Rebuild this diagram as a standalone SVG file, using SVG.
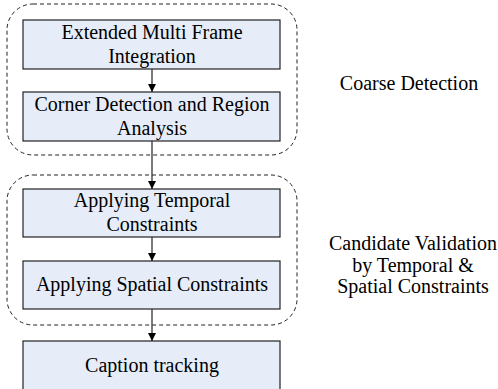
<svg xmlns="http://www.w3.org/2000/svg" width="498" height="389" viewBox="0 0 498 389">
<style>
.box{fill:#e6edf8;stroke:#222;stroke-width:1.2}
.grp{fill:none;stroke:#222;stroke-width:1;stroke-dasharray:4 3}
text{font-family:"Liberation Serif","Times New Roman",serif;font-size:20px;fill:#000;text-anchor:middle}
.conn line{stroke:#333;stroke-width:1.3}
</style>
<defs>
<marker id="ah" markerWidth="8" markerHeight="8" refX="8" refY="4" orient="auto" markerUnits="userSpaceOnUse">
<path d="M0,0 L8,4 L0,8 Z" fill="#000"/>
</marker>
</defs>
<g id="group-coarse"><rect class="grp" x="7" y="4" width="290" height="151" rx="26"/></g>
<g id="group-validation"><rect class="grp" x="7" y="175" width="290" height="150" rx="26"/></g>
<g id="node-emfi"><rect class="box" x="23" y="20" width="257" height="49"/><text x="152" y="39">Extended Multi Frame</text><text x="152" y="63">Integration</text></g>
<g id="node-corner"><rect class="box" x="23" y="92" width="257" height="49"/><text x="152" y="111">Corner Detection and Region</text><text x="152" y="135">Analysis</text></g>
<g id="node-temporal"><rect class="box" x="23" y="189" width="257" height="48"/><text x="152" y="207">Applying Temporal</text><text x="152" y="231">Constraints</text></g>
<g id="node-spatial"><rect class="box" x="23" y="261" width="257" height="48"/><text x="152" y="291">Applying Spatial Constraints</text></g>
<g id="node-tracking"><rect class="box" x="23" y="341" width="257" height="60"/><text x="152" y="372">Caption tracking</text></g>
<g id="label-coarse"><text x="409" y="90">Coarse Detection</text></g>
<g id="label-validation"><text x="413" y="250">Candidate Validation</text><text x="413" y="272">by Temporal &amp;</text><text x="413" y="293">Spatial Constraints</text></g>
<g class="conn" id="connectors">
<line x1="152" y1="69" x2="152" y2="92" marker-end="url(#ah)"/>
<line x1="152" y1="141" x2="152" y2="189" marker-end="url(#ah)"/>
<line x1="152" y1="237" x2="152" y2="261" marker-end="url(#ah)"/>
<line x1="152" y1="309" x2="152" y2="341" marker-end="url(#ah)"/>
</g>
</svg>
